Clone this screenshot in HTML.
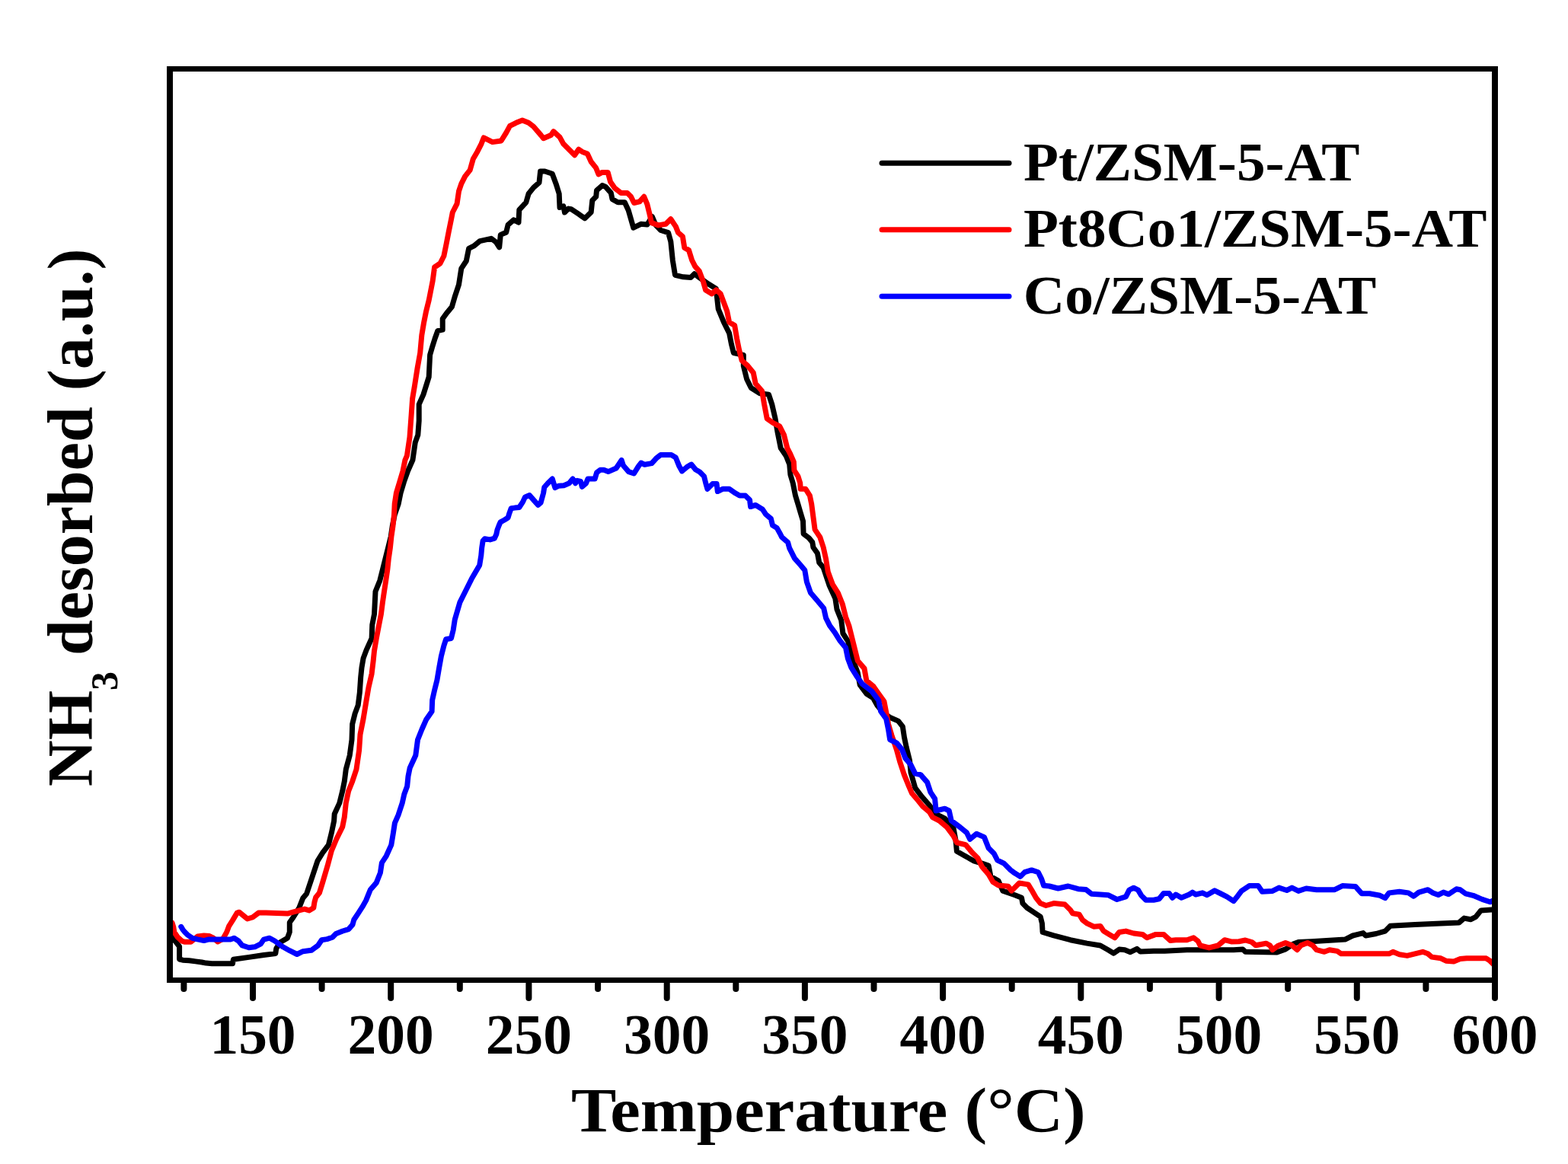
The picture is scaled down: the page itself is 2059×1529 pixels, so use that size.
<!DOCTYPE html>
<html><head><meta charset="utf-8"><title>NH3-TPD</title>
<style>html,body{margin:0;padding:0;background:#fff;width:2059px;height:1529px;overflow:hidden}svg{display:block}</style>
</head><body>
<svg width="2059" height="1529" viewBox="0 0 2059 1529">
<rect x="0" y="0" width="2059" height="1529" fill="#fff"/>
<defs><clipPath id="c"><rect x="223" y="90" width="1740" height="1197"/></clipPath></defs>
<g clip-path="url(#c)" fill="none" stroke-width="7.0" stroke-linejoin="round" stroke-linecap="round">
<path d="M224.0 1228.0 L226.1 1232.3 L231.1 1237.3 L235.6 1243.4 L235.6 1251.2 L235.6 1260.0 L240.0 1261.2 L248.4 1261.7 L256.7 1262.9 L265.1 1264.0 L270.6 1265.1 L278.3 1265.7 L305.5 1265.7 L306.4 1260.3 L326.8 1257.4 L346.3 1254.5 L361.8 1252.6 L362.8 1245.8 L367.6 1238.0 L377.4 1232.2 L380.3 1224.4 L380.3 1211.8 L385.1 1205.0 L392.9 1192.3 L397.8 1179.7 L402.6 1174.0 L410.5 1150.4 L417.0 1130.8 L423.5 1120.3 L431.4 1109.9 L435.3 1094.2 L438.6 1078.5 L439.2 1069.3 L445.8 1054.9 L449.7 1039.2 L452.3 1026.2 L454.3 1010.5 L459.2 992.3 L462.0 971.7 L462.7 951.1 L466.1 937.4 L470.2 926.4 L472.3 909.9 L473.7 889.3 L475.0 876.9 L477.1 864.6 L481.2 853.6 L488.1 838.5 L488.8 820.6 L491.5 806.9 L493.0 777.0 L498.8 762.7 L502.4 748.3 L506.0 733.9 L509.6 719.5 L513.2 705.1 L515.3 690.7 L518.2 676.3 L523.2 661.9 L526.1 647.6 L530.4 633.2 L535.5 618.8 L541.9 604.4 L545.2 581.4 L548.8 571.4 L550.2 552.7 L550.2 531.1 L556.0 518.1 L559.6 506.6 L563.2 495.1 L563.9 480.7 L564.6 466.3 L567.5 456.3 L571.1 444.7 L574.7 434.7 L581.2 433.2 L581.2 418.8 L586.2 411.7 L593.4 403.0 L597.6 388.6 L602.5 373.9 L605.8 352.6 L612.3 342.8 L615.6 326.4 L622.1 323.2 L630.3 316.6 L645.0 313.3 L651.6 318.3 L655.7 324.8 L657.3 308.4 L664.7 305.2 L667.1 295.4 L674.5 288.8 L681.0 292.1 L681.8 275.7 L690.8 265.9 L694.1 254.5 L700.6 246.3 L708.0 239.8 L709.6 225.0 L715.4 225.0 L725.2 228.3 L730.1 241.4 L734.2 254.5 L735.0 272.5 L739.9 270.8 L741.5 279.0 L746.4 274.1 L750.0 274.7 L759.8 281.2 L768.0 286.9 L776.2 278.7 L777.8 263.2 L782.7 258.3 L783.5 250.1 L790.9 243.6 L795.0 245.2 L802.3 253.4 L804.0 261.6 L811.3 265.7 L820.3 265.7 L825.2 276.3 L828.5 287.7 L831.8 299.2 L841.6 294.3 L849.8 295.1 L856.3 284.5 L861.2 295.9 L867.7 302.5 L877.6 305.7 L880.8 317.2 L883.3 341.7 L886.5 361.3 L897.2 363.8 L907.0 364.6 L911.9 359.7 L918.4 364.6 L929.9 372.8 L940.3 379.3 L943.2 405.9 L950.4 423.2 L957.6 437.6 L960.4 451.9 L963.3 463.5 L976.3 466.3 L976.3 480.7 L980.6 498.0 L986.3 509.5 L997.8 516.7 L1009.4 518.1 L1013.7 531.1 L1018.0 549.8 L1020.9 567.0 L1025.2 588.6 L1032.3 598.9 L1036.7 610.0 L1037.9 623.4 L1041.2 634.5 L1044.5 651.1 L1047.9 662.3 L1051.2 673.4 L1054.5 684.5 L1055.1 701.2 L1062.3 706.7 L1066.8 712.3 L1067.9 719.0 L1073.4 726.7 L1075.7 739.0 L1081.2 745.6 L1088.9 768.7 L1096.8 786.0 L1099.0 800.4 L1104.7 814.7 L1106.9 832.0 L1113.4 842.1 L1117.7 857.9 L1122.0 872.3 L1126.3 883.8 L1129.2 899.6 L1137.8 911.2 L1146.5 916.9 L1152.2 927.0 L1160.9 937.1 L1169.5 942.8 L1179.6 947.1 L1185.3 954.3 L1187.5 968.7 L1190.2 981.6 L1194.5 998.8 L1196.0 1014.7 L1201.7 1034.8 L1210.4 1046.3 L1220.4 1057.8 L1229.1 1069.4 L1240.6 1075.1 L1252.1 1088.1 L1255.0 1103.9 L1256.4 1118.3 L1266.5 1124.0 L1279.4 1131.2 L1289.5 1134.1 L1298.1 1137.0 L1301.0 1151.4 L1311.1 1157.1 L1316.8 1170.1 L1332.7 1175.8 L1341.5 1179.3 L1342.9 1186.6 L1348.7 1192.5 L1357.5 1198.3 L1366.2 1204.1 L1368.4 1212.9 L1369.1 1224.5 L1383.7 1228.9 L1405.6 1234.7 L1427.4 1239.1 L1444.9 1242.0 L1455.1 1247.8 L1462.4 1252.2 L1469.7 1247.1 L1477.0 1247.8 L1484.3 1250.7 L1493.0 1246.4 L1497.4 1250.0 L1514.9 1249.3 L1529.4 1249.3 L1558.6 1247.8 L1602.3 1247.8 L1620.0 1247.7 L1631.9 1246.9 L1635.3 1250.3 L1676.1 1251.1 L1688.0 1246.9 L1698.2 1240.1 L1705.0 1237.5 L1722.0 1236.7 L1766.2 1234.1 L1776.4 1229.0 L1790.0 1225.6 L1793.4 1229.0 L1807.0 1226.5 L1818.9 1223.1 L1825.7 1216.3 L1858.0 1214.6 L1892.0 1212.9 L1915.8 1212.0 L1922.6 1206.1 L1931.1 1207.8 L1937.9 1204.4 L1944.7 1195.9 L1958.3 1195.0 L1962.0 1195.0" stroke="#000"/>
<path d="M226.1 1212.2 L227.8 1217.8 L228.9 1224.5 L233.4 1231.2 L238.9 1236.2 L242.8 1237.3 L250.6 1237.3 L253.9 1234.5 L259.5 1230.0 L267.8 1228.9 L275.0 1229.5 L280.2 1232.2 L286.0 1237.0 L292.8 1233.1 L297.7 1224.4 L300.6 1216.6 L305.5 1208.9 L311.3 1199.1 L314.2 1198.2 L320.0 1203.0 L324.9 1206.9 L331.7 1205.0 L339.5 1199.1 L349.2 1199.1 L377.4 1200.1 L394.8 1195.3 L400.0 1194.1 L405.9 1195.9 L411.8 1192.4 L413.0 1184.7 L414.7 1178.8 L419.4 1172.9 L423.5 1159.6 L430.1 1137.3 L435.3 1117.7 L441.9 1102.0 L449.7 1086.3 L452.3 1073.2 L454.3 1054.9 L457.6 1039.2 L462.8 1026.2 L468.0 1010.5 L471.6 985.4 L473.0 964.8 L477.1 944.2 L480.5 923.6 L484.0 903.0 L488.1 885.2 L490.1 868.7 L491.5 854.9 L494.3 838.5 L497.7 820.6 L500.4 806.9 L502.4 791.4 L504.5 777.0 L506.7 762.7 L508.8 748.3 L510.3 733.9 L512.4 719.5 L513.9 705.1 L516.0 690.7 L517.5 676.3 L518.2 661.9 L520.4 647.6 L524.7 633.2 L529.0 618.8 L531.9 604.4 L534.4 598.7 L538.0 574.2 L540.1 545.5 L541.6 523.9 L544.5 506.6 L548.1 483.6 L551.7 463.5 L553.8 440.4 L556.7 423.2 L559.6 408.8 L563.2 394.4 L568.2 368.9 L570.6 351.0 L578.0 346.0 L582.9 336.2 L586.2 319.9 L589.4 303.5 L592.7 287.2 L594.3 279.0 L600.1 267.6 L602.5 251.2 L605.8 241.4 L610.7 231.6 L617.2 223.4 L621.3 208.7 L627.0 198.9 L632.0 189.1 L635.2 180.9 L646.7 186.6 L658.1 185.0 L664.7 174.3 L669.6 165.3 L677.7 161.3 L685.9 158.0 L694.1 161.3 L700.6 166.2 L710.4 177.6 L713.7 181.7 L723.5 177.6 L726.8 172.7 L735.0 180.1 L739.9 189.1 L748.1 197.2 L754.6 203.8 L759.8 196.2 L764.7 199.4 L771.3 201.9 L776.2 212.5 L782.7 220.7 L786.0 228.9 L790.9 226.4 L798.2 226.4 L801.5 238.7 L807.2 246.9 L815.4 253.4 L823.6 253.4 L828.5 258.3 L832.6 266.5 L839.9 264.8 L845.7 258.3 L849.8 268.1 L853.0 281.2 L855.5 292.6 L864.5 295.9 L874.3 294.3 L880.8 287.7 L887.4 297.6 L890.6 305.7 L896.4 310.6 L898.8 325.4 L904.5 328.6 L908.6 341.7 L912.7 349.9 L918.4 356.4 L923.3 369.5 L926.6 381.0 L934.8 385.9 L940.5 381.0 L946.2 385.9 L950.4 397.3 L954.7 408.8 L957.6 423.2 L964.7 427.5 L967.6 444.7 L970.5 459.1 L974.1 473.5 L982.0 480.7 L989.2 489.4 L992.1 503.7 L1000.7 513.8 L1003.6 531.1 L1007.2 549.8 L1015.1 555.5 L1023.7 559.9 L1029.5 571.4 L1033.8 588.6 L1037.9 596.7 L1042.3 606.7 L1042.9 617.8 L1047.9 625.6 L1050.7 634.5 L1051.2 642.3 L1057.9 642.3 L1063.4 651.1 L1065.7 662.3 L1067.9 679.0 L1070.1 695.6 L1076.8 705.6 L1081.2 719.0 L1084.6 734.5 L1087.3 751.2 L1093.2 767.3 L1100.4 778.8 L1106.2 793.2 L1110.5 810.4 L1114.8 821.9 L1119.1 839.2 L1122.7 853.6 L1126.3 868.0 L1135.0 878.1 L1137.8 893.9 L1146.5 901.1 L1153.7 911.2 L1160.9 921.2 L1163.7 935.6 L1166.6 951.4 L1170.9 965.8 L1177.3 984.5 L1181.6 1000.3 L1187.3 1017.6 L1193.1 1031.9 L1197.4 1042.0 L1206.0 1052.1 L1211.8 1059.3 L1220.4 1066.5 L1224.7 1073.7 L1233.4 1078.0 L1243.5 1086.6 L1252.1 1098.1 L1256.4 1106.8 L1267.9 1109.6 L1276.5 1119.7 L1283.7 1126.9 L1289.5 1138.4 L1298.1 1148.5 L1303.9 1158.6 L1311.1 1162.9 L1324.0 1164.3 L1328.3 1170.1 L1338.4 1160.0 L1350.2 1161.9 L1354.6 1169.1 L1360.4 1179.3 L1366.2 1186.6 L1373.5 1189.5 L1383.7 1186.6 L1398.3 1188.1 L1405.6 1195.4 L1408.5 1199.7 L1417.2 1201.2 L1421.6 1208.5 L1427.4 1212.9 L1436.2 1217.2 L1444.9 1216.5 L1449.3 1223.1 L1456.6 1227.4 L1463.9 1231.8 L1469.7 1224.5 L1478.4 1223.1 L1488.6 1226.0 L1500.3 1227.4 L1506.1 1231.8 L1517.8 1227.4 L1528.0 1227.4 L1536.7 1235.4 L1544.0 1234.7 L1558.6 1234.7 L1567.3 1231.8 L1573.1 1236.2 L1576.0 1242.0 L1587.7 1244.9 L1599.4 1242.0 L1608.1 1234.7 L1616.8 1236.9 L1626.8 1236.7 L1635.3 1235.0 L1643.8 1237.5 L1648.9 1241.8 L1662.5 1239.2 L1667.6 1241.8 L1671.0 1247.7 L1677.8 1242.6 L1688.0 1238.4 L1696.5 1241.8 L1703.3 1247.7 L1708.4 1241.8 L1716.9 1238.4 L1723.7 1241.8 L1728.8 1247.7 L1739.0 1250.3 L1745.8 1247.7 L1756.0 1249.4 L1761.1 1252.8 L1824.0 1252.8 L1829.1 1250.3 L1837.6 1253.7 L1847.8 1255.4 L1858.0 1252.8 L1868.2 1250.3 L1875.0 1252.8 L1880.1 1257.1 L1892.0 1258.8 L1898.8 1262.2 L1909.0 1263.0 L1917.5 1259.6 L1926.0 1258.8 L1951.5 1258.8 L1956.6 1262.2 L1961.7 1267.3" stroke="#f00"/>
<path d="M237.8 1217.3 L240.0 1221.1 L242.8 1224.5 L246.1 1227.8 L252.8 1232.3 L259.5 1233.9 L267.8 1235.6 L273.4 1234.1 L302.6 1234.1 L307.4 1232.2 L313.2 1236.0 L318.1 1241.9 L326.8 1244.8 L334.6 1243.8 L342.4 1239.9 L346.3 1234.1 L354.0 1232.2 L360.8 1236.0 L371.5 1243.8 L380.3 1248.7 L390.0 1253.5 L397.8 1249.7 L408.8 1248.3 L417.7 1241.8 L422.4 1234.7 L429.4 1233.6 L436.5 1231.2 L441.2 1226.5 L450.0 1223.0 L457.7 1220.6 L463.0 1214.7 L464.7 1208.3 L470.6 1199.4 L475.9 1191.2 L480.6 1182.9 L486.3 1168.7 L494.2 1159.6 L499.4 1146.5 L501.4 1133.4 L507.3 1124.3 L513.8 1109.9 L516.4 1094.2 L518.4 1081.1 L523.0 1070.6 L528.2 1054.9 L530.8 1043.2 L534.7 1032.7 L536.0 1019.6 L538.2 1008.8 L545.8 992.3 L548.5 971.7 L554.0 958.0 L559.5 945.6 L567.1 934.6 L567.7 919.5 L570.5 907.1 L573.9 893.4 L576.7 876.9 L579.4 861.8 L582.9 848.1 L585.6 839.8 L592.5 838.5 L595.2 827.5 L597.3 813.7 L603.8 791.4 L611.0 777.0 L619.6 759.8 L629.7 742.5 L631.8 729.5 L632.7 719.5 L634.1 710.6 L636.5 707.7 L643.5 708.9 L649.4 707.1 L651.8 701.8 L653.0 695.9 L655.3 690.0 L657.1 685.9 L662.4 683.0 L667.1 680.0 L668.9 674.1 L671.2 667.7 L675.9 667.1 L681.8 666.5 L686.5 659.4 L689.5 652.9 L695.3 650.6 L700.8 656.9 L706.6 663.3 L710.1 660.4 L713.6 647.6 L714.8 640.0 L719.4 634.8 L725.3 629.0 L728.8 640.6 L733.4 638.3 L740.4 637.7 L747.4 634.8 L752.1 629.0 L755.6 634.8 L757.9 631.3 L762.6 632.5 L764.3 639.4 L769.6 634.8 L771.9 629.0 L781.2 629.0 L783.6 620.8 L788.2 617.3 L792.9 617.3 L798.7 619.6 L809.2 615.0 L816.2 604.5 L818.5 611.5 L825.5 619.6 L832.5 622.0 L838.3 612.6 L841.8 608.0 L846.5 610.3 L855.8 608.6 L861.7 602.1 L867.5 597.5 L881.5 597.5 L887.3 601.0 L892.0 612.6 L895.6 618.9 L902.2 613.3 L907.8 610.0 L913.3 616.7 L918.9 620.0 L924.5 625.6 L926.7 634.5 L928.9 642.3 L935.6 635.6 L941.1 635.6 L942.3 645.6 L948.9 642.3 L957.8 642.3 L965.6 647.8 L971.2 651.1 L978.9 651.1 L984.5 656.7 L985.6 665.6 L992.3 663.4 L1001.2 668.9 L1005.6 675.6 L1012.3 681.2 L1014.5 690.1 L1020.1 693.4 L1024.5 701.2 L1026.7 705.6 L1034.5 712.3 L1036.7 720.1 L1043.4 733.4 L1051.2 742.3 L1056.8 749.0 L1059.4 764.4 L1064.5 778.8 L1073.1 788.8 L1081.7 798.9 L1084.6 811.9 L1089.6 821.9 L1096.1 830.6 L1103.3 842.1 L1110.5 850.7 L1113.4 865.1 L1117.7 876.6 L1124.9 888.1 L1132.1 898.2 L1145.0 908.3 L1153.7 919.8 L1156.5 934.2 L1163.7 944.2 L1166.6 958.6 L1168.6 971.5 L1177.3 975.8 L1184.5 984.5 L1188.8 996.0 L1196.0 1004.6 L1201.7 1016.1 L1208.9 1017.6 L1217.6 1027.6 L1221.9 1040.6 L1227.6 1049.2 L1229.1 1065.0 L1240.6 1062.2 L1246.3 1065.0 L1249.2 1078.0 L1260.7 1086.6 L1269.4 1093.8 L1273.7 1102.4 L1282.3 1095.3 L1292.4 1099.6 L1298.1 1114.0 L1305.3 1121.2 L1309.6 1129.8 L1318.3 1134.1 L1326.9 1142.7 L1332.7 1147.1 L1339.9 1151.4 L1345.6 1145.6 L1354.6 1142.9 L1363.3 1145.8 L1367.7 1154.6 L1370.6 1163.3 L1377.9 1164.0 L1389.5 1167.0 L1402.7 1164.0 L1415.8 1167.7 L1426.0 1168.4 L1433.3 1174.2 L1444.9 1175.0 L1455.1 1175.7 L1466.8 1181.5 L1478.4 1177.9 L1482.8 1169.1 L1488.6 1166.2 L1494.5 1169.1 L1498.8 1176.4 L1504.7 1182.3 L1514.9 1182.3 L1522.1 1180.8 L1528.0 1173.5 L1535.3 1173.5 L1539.6 1179.3 L1544.0 1175.0 L1551.3 1179.3 L1561.5 1175.0 L1565.9 1172.1 L1570.2 1175.0 L1579.0 1172.8 L1584.8 1175.7 L1595.0 1169.9 L1602.3 1173.5 L1611.0 1177.9 L1619.8 1183.7 L1625.1 1177.2 L1630.2 1170.4 L1640.4 1163.6 L1652.3 1163.6 L1657.4 1171.2 L1671.0 1170.4 L1679.5 1166.1 L1689.7 1169.5 L1696.5 1166.1 L1705.0 1170.4 L1715.2 1167.0 L1728.8 1168.7 L1752.6 1168.7 L1762.8 1163.6 L1779.8 1164.4 L1788.3 1173.8 L1798.5 1173.8 L1812.1 1176.3 L1818.9 1179.7 L1824.0 1172.9 L1837.6 1171.2 L1849.5 1172.9 L1856.3 1177.2 L1863.1 1172.1 L1875.0 1168.7 L1881.8 1172.9 L1888.6 1175.5 L1895.4 1172.1 L1902.2 1174.6 L1912.4 1167.8 L1917.5 1168.7 L1924.3 1173.8 L1934.5 1176.3 L1946.4 1181.4 L1956.6 1184.8 L1961.7 1182.3" stroke="#00f"/>
</g>
<g fill="#000">
<rect x="219" y="87" width="1748" height="7"/>
<rect x="219" y="1284" width="1748" height="7"/>
<rect x="219" y="89" width="8" height="1202"/>
<rect x="1959" y="87" width="8" height="1204"/>
</g>
<g stroke="#000" stroke-width="8" stroke-linecap="round">
<line x1="332.0" y1="1288" x2="332.0" y2="1311"/>
<line x1="513.2" y1="1288" x2="513.2" y2="1311"/>
<line x1="694.4" y1="1288" x2="694.4" y2="1311"/>
<line x1="875.7" y1="1288" x2="875.7" y2="1311"/>
<line x1="1056.9" y1="1288" x2="1056.9" y2="1311"/>
<line x1="1238.1" y1="1288" x2="1238.1" y2="1311"/>
<line x1="1419.3" y1="1288" x2="1419.3" y2="1311"/>
<line x1="1600.6" y1="1288" x2="1600.6" y2="1311"/>
<line x1="1781.8" y1="1288" x2="1781.8" y2="1311"/>
<line x1="1963.0" y1="1288" x2="1963.0" y2="1311"/>
<line x1="241.4" y1="1288" x2="241.4" y2="1299"/>
<line x1="422.6" y1="1288" x2="422.6" y2="1299"/>
<line x1="603.8" y1="1288" x2="603.8" y2="1299"/>
<line x1="785.1" y1="1288" x2="785.1" y2="1299"/>
<line x1="966.3" y1="1288" x2="966.3" y2="1299"/>
<line x1="1147.5" y1="1288" x2="1147.5" y2="1299"/>
<line x1="1328.7" y1="1288" x2="1328.7" y2="1299"/>
<line x1="1509.9" y1="1288" x2="1509.9" y2="1299"/>
<line x1="1691.2" y1="1288" x2="1691.2" y2="1299"/>
<line x1="1872.4" y1="1288" x2="1872.4" y2="1299"/>
</g>
<g font-family="'Liberation Serif', 'Times New Roman', serif" font-weight="bold" font-size="70" text-anchor="middle" fill="#000">
<text transform="translate(332.00 1383.80) scale(1.0781 1.0630)">150</text>
<text transform="translate(513.22 1383.80) scale(1.0781 1.0630)">200</text>
<text transform="translate(694.44 1383.80) scale(1.0781 1.0630)">250</text>
<text transform="translate(875.67 1383.80) scale(1.0781 1.0630)">300</text>
<text transform="translate(1056.89 1383.80) scale(1.0781 1.0630)">350</text>
<text transform="translate(1238.11 1383.80) scale(1.0781 1.0630)">400</text>
<text transform="translate(1419.33 1383.80) scale(1.0781 1.0630)">450</text>
<text transform="translate(1600.56 1383.80) scale(1.0781 1.0630)">500</text>
<text transform="translate(1781.78 1383.80) scale(1.0781 1.0630)">550</text>
<text transform="translate(1963.00 1383.80) scale(1.0781 1.0630)">600</text>
</g>
<text transform="translate(1087.89 1486.32) scale(1.0597 0.9766)" font-family="'Liberation Serif', 'Times New Roman', serif" font-weight="bold" font-size="84" text-anchor="middle">Temperature (°C)</text>
<text transform="translate(120.7 1033) rotate(-90) scale(1.0 1)" font-family="'Liberation Serif', 'Times New Roman', serif" font-weight="bold" font-size="84" text-anchor="start">NH<tspan font-size="50" dy="33.5">3</tspan><tspan dy="-33.5"> desorbed (a.u.)</tspan></text>
<g stroke-width="7" stroke-linecap="round">
<line x1="1158" y1="214.3" x2="1325" y2="214.3" stroke="#000"/>
<line x1="1158" y1="301.8" x2="1325" y2="301.8" stroke="#f00"/>
<line x1="1158" y1="389.3" x2="1325" y2="389.3" stroke="#00f"/>
</g>
<g font-family="'Liberation Serif', 'Times New Roman', serif" font-weight="bold" font-size="70" fill="#000">
<text transform="translate(1343.93 236.98) scale(1.0748 1.0213)">Pt/ZSM-5-AT</text>
<text transform="translate(1343.93 324.48) scale(1.0745 1.0213)">Pt8Co1/ZSM-5-AT</text>
<text transform="translate(1343.67 411.76) scale(1.0777 1.0404)">Co/ZSM-5-AT</text>
</g>
</svg>
</body></html>
